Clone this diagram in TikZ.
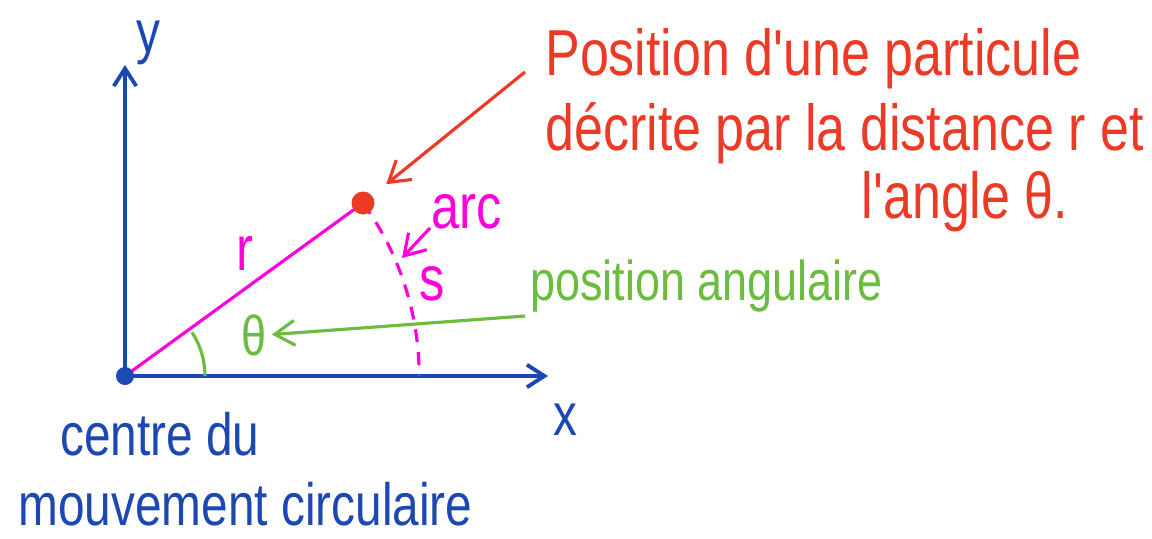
\documentclass[tikz,border=0pt]{standalone}
\usepackage{fontspec}
\newfontfamily\handfont[FakeStretch=0.8]{Liberation Sans}
\usepackage{tikz}
\usetikzlibrary{
  arrows.meta,
  positioning,
  calc
}
\definecolor{axiscolor}{RGB}{28, 72, 178}
\definecolor{pointcolor}{RGB}{236, 58, 38}
\definecolor{radiuscolor}{RGB}{255, 0, 220}
\definecolor{anglecolor}{RGB}{108, 188, 64}
\tikzset{
handtext/.style={
  inner sep=0pt,
  font=\handfont\fontsize{#1}{#1}\selectfont
},
handtext/.default=32,
axisline/.style={
  -{Straight Barb[length=3.5mm,width=4.5mm]},
  line width=2.2pt,
  draw=axiscolor
},
radiusline/.style={
  line width=1.8pt,
  draw=radiuscolor
},
arcline/.style={
  radiusline,
  dashed,
  dash pattern=on 2.6mm off 2mm
},
anglearc/.style={
  line width=1.8pt,
  draw=anglecolor
},
pointer/.style={
  -{Straight Barb[length=4mm,width=5mm]},
  line width=1.8pt
},
originpoint/.style={
  circle,
  fill=axiscolor,
  inner sep=0pt,
  minimum size=3.6mm
},
particlepoint/.style={
  circle,
  fill=pointcolor,
  inner sep=0pt,
  minimum size=4.6mm
}
}

\begin{document}
\begin{tikzpicture}[x=0.02cm, y=-0.02cm]
  \path[fill=white] (0,0) rectangle (1152,538);
  \useasboundingbox (0,0) rectangle (1152,538);

  % repere
  \coordinate (O) at (125,376);
  \coordinate (P) at (363,203);
  \coordinate (xend) at (548,376);
  \coordinate (yend) at (125,65);
  \draw[axisline] (O) -- (xend);
  \draw[axisline] (O) -- (yend);
  \node[handtext=34, text=axiscolor, anchor=base] (xlabel) at (565,435) {x};
  \node[handtext=34, text=axiscolor, anchor=base] (ylabel) at (148,52) {y};

  % rayon, arc et angle
  \draw[radiusline] (O) -- (P);
  \draw[arcline] (P) arc[start angle=-36, end angle=0, radius=294];
  \draw[anglearc] (O) ++(80,0) arc[start angle=0, end angle=-33, radius=80];
  \node[particlepoint] (Pdot) at (P) {};
  \node[originpoint] (Odot) at (O) {};
  \node[handtext=36, text=radiuscolor, anchor=base] (rlabel) at (245,270) {r};
  \node[handtext=36, text=radiuscolor, anchor=base] (slabel) at (432,300) {s};
  \node[handtext=36, text=radiuscolor, anchor=base] (arclabel) at (467,228) {arc};
  \node[handtext=32, text=anglecolor, anchor=base] (theta) at (254,355) {θ};

  % legendes
  \node[handtext=37, text=pointcolor, anchor=base west] (desc1) at (545,75) {Position d'une particule};
  \node[handtext=37, text=pointcolor, anchor=base west] (desc2) at (545,150) {décrite par la distance r et};
  \node[handtext=37, text=pointcolor, anchor=base] (desc3) at (965,218) {l'angle θ.};
  \node[handtext=32, text=anglecolor, anchor=base west] (angpos) at (530,300) {position angulaire};
  \node[handtext=34, text=axiscolor, anchor=base west] (centre1) at (60,455) {centre du};
  \node[handtext=34, text=axiscolor, anchor=base west] (centre2) at (18,525) {mouvement circulaire};

  % fleches
  \coordinate (redstart) at (525,72);
  \coordinate (greenstart) at (525,316);
  \coordinate (arcstart) at (430,228);
  \coordinate (arcend) at (402,258);
  \draw[pointer, draw=pointcolor, shorten >=3.6mm] (redstart) -- (Pdot);
  \draw[pointer, draw=anglecolor, shorten >=1mm] (greenstart) -- (theta.east);
  \draw[pointer, draw=radiuscolor] (arcstart) -- (arcend);
\end{tikzpicture}
\end{document}
